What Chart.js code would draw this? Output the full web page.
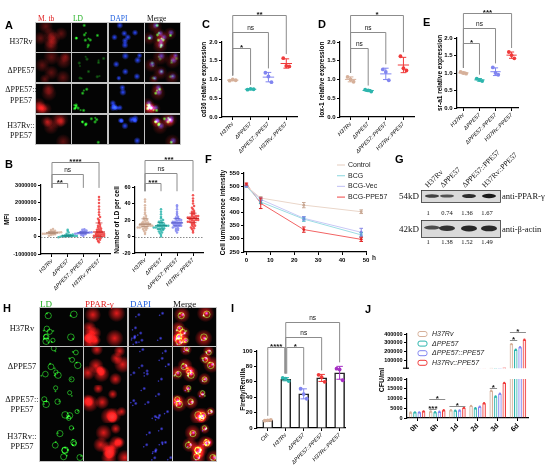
<!DOCTYPE html>
<html>
<head>
<meta charset="utf-8">
<script src="https://cdn.jsdelivr.net/npm/chart.js@4.4.1/dist/chart.umd.min.js"></script>
<style>
html, body { margin: 0; padding: 0; background: #fff; }
#fig { position: relative; width: 550px; height: 472px; overflow: hidden; background: #fff; }
#fig canvas { position: absolute; }
</style>
</head>
<body>
<div id="fig">
  <canvas id="bg" width="550" height="472" style="left:0;top:0"></canvas>
  <canvas id="chartMfi"></canvas>
  <canvas id="chartLd"></canvas>
  <canvas id="chartCd36"></canvas>
  <canvas id="chartLox1"></canvas>
  <canvas id="chartSra1"></canvas>
  <canvas id="chartLum"></canvas>
  <canvas id="chartLuc"></canvas>
  <canvas id="chartCfuHi"></canvas>
  <canvas id="chartCfuLo"></canvas>
</div>
<script>
// ---- data ----
const groups = ['H37Rv', 'ΔPPE57', 'ΔPPE57::PPE57', 'H37Rv::PPE57'];
const groupColors = ['#d6b09a', '#2db5ad', '#8185f0', '#f03a3a'];
const groupDark = ['#a9836d', '#178a84', '#5558c8', '#c41c1c'];

// C-E qPCR, three replicates per strain
const cd36Expr = [[0.97, 1.00, 0.98], [0.73, 0.75, 0.74], [1.18, 1.08, 0.93], [1.57, 1.36, 1.35]];
const lox1Expr = [[1.07, 1.00, 0.94], [0.73, 0.71, 0.68], [1.27, 1.20, 0.98], [1.62, 1.30, 1.24]];
const sra1Expr = [[1.03, 1.00, 0.98], [0.84, 0.80, 0.77], [1.16, 1.00, 0.95], [1.60, 1.51, 1.42]];
const exprTicks = [0, 0.5, 1.0, 1.5, 2.0];
const exprSig = [
  { a: 0, b: 1, y: 1.85, text: '*' },
  { a: 0, b: 2, y: 2.28, text: 'ns' },
  { a: 0, b: 3, y: 2.72, text: '**' }
];
const lox1Sig = [
  { a: 0, b: 1, y: 1.85, text: 'ns' },
  { a: 0, b: 2, y: 2.28, text: 'ns' },
  { a: 0, b: 3, y: 2.72, text: '*' }
];
const sra1Sig = [
  { a: 0, b: 1, y: 1.85, text: '*' },
  { a: 0, b: 2, y: 2.28, text: 'ns' },
  { a: 0, b: 3, y: 2.72, text: '***' }
];

// B MFI per cell
const mfiH37Rv = [60000, 100000, 130000, 150000, 170000, 180000, 190000, 200000, 210000, 220000, 230000, 240000, 250000, 260000, 280000, 300000, 320000, 350000, 390000, 450000];
const mfiDelta = [-30000, 0, 10000, 20000, 25000, 30000, 35000, 40000, 45000, 50000, 55000, 60000, 70000, 80000, 100000, 130000, 180000, 250000, 330000, 400000];
const mfiComp = [50000, 100000, 130000, 150000, 170000, 185000, 200000, 210000, 220000, 230000, 240000, 250000, 265000, 280000, 300000, 330000, 360000, 400000, 440000];
const mfiOver = [-320000, -250000, -180000, -130000, -90000, -60000, -40000, -20000, 0, 10000, 20000, 40000, 60000, 80000, 100000, 120000, 140000, 160000, 180000, 200000, 230000, 260000, 290000, 320000, 360000, 400000, 440000, 480000, 530000, 580000, 640000, 700000, 780000, 860000, 950000, 1050000, 1150000, 1280000, 1420000, 1580000, 1750000, 1950000, 2150000, 2300000];
const mfiTicks = [-1000000, 0, 1000000, 2000000, 3000000];
const mfiSig = [
  { a: 0, b: 1, y: 3130000, text: '**' },
  { a: 0, b: 2, y: 3650000, text: 'ns' },
  { a: 0, b: 3, y: 4350000, text: '****' }
];
// B number of LD per cell
const ldH37Rv = [3, 5, 7, 8, 9, 10, 10, 11, 11, 12, 12, 12, 13, 13, 13, 14, 14, 14, 15, 15, 15, 16, 16, 17, 17, 18, 19, 20, 21, 22, 23, 25, 27, 29, 32, 35, 38, 42, 45];
const ldDelta = [0, 2, 4, 5, 6, 7, 8, 9, 9, 10, 10, 11, 11, 12, 12, 12, 13, 13, 13, 14, 14, 15, 15, 16, 17, 18, 19, 20, 22, 24, 27, 30, 33];
const ldComp = [5, 7, 8, 9, 10, 11, 12, 12, 13, 13, 14, 14, 15, 15, 16, 16, 16, 17, 17, 18, 18, 19, 20, 20, 21, 22, 23, 24, 26, 28, 30, 33, 36, 38];
const ldOver = [5, 7, 9, 10, 11, 12, 13, 14, 15, 16, 17, 18, 18, 19, 19, 20, 20, 21, 21, 22, 22, 23, 23, 24, 24, 25, 25, 26, 27, 28, 29, 30, 31, 33, 35, 37, 40, 43, 46, 50];
const ldTicks = [-20, 0, 20, 40, 60];
const ldSig = [
  { a: 0, b: 1, y: 65, text: '***' },
  { a: 0, b: 2, y: 77, text: 'ns' },
  { a: 0, b: 3, y: 93, text: '***' }
];

// F luminescence over time
const lumHours = [0, 6, 24, 48];
const lumSeries = ['Control', 'BCG', 'BCG-Vec', 'BCG-PPE57'];
const lumControl = [500, 455, 428, 403];
const lumBcg = [500, 440, 375, 315];
const lumVec = [500, 450, 378, 325];
const lumPpe = [508, 435, 335, 298];
const lumControlErr = [3, 5, 10, 7];
const lumBcgErr = [3, 6, 8, 8];
const lumVecErr = [3, 5, 6, 15];
const lumPpeErr = [4, 20, 10, 8];
const lumColors = ['#ead6c9', '#9cdde4', '#c9c9f6', '#f26464'];
const lumErrColors = ['#c9a995', '#3fb2c2', '#8585e6', '#e02424'];

// G western blot quantification
const pparRatio = [1, 0.74, 1.36, 1.67];
const actinRatio = [1, 1.38, 1.52, 1.49];

// I dual luciferase
const lucGroups = ['Ctrl', 'H37Rv', 'ΔPPE57', 'ΔPPE57::PPE57', 'H37Rv::PPE57'];
const lucColors = ['#d6b09a', '#2db5ad', '#8185f0', '#f03a3a', '#a62fc4'];
const lucValues = [[9.5, 10, 10.6], [65, 64, 61], [51, 44, 38], [69, 66, 60], [77, 76, 62]];
const lucTicks = [0, 20, 40, 60, 80, 100];
const lucSig = [
  { a: 0, b: 1, y: 105, text: '****', db: -1 },
  { a: 1, b: 2, y: 105, text: '*', da: 1 },
  { a: 1, b: 3, y: 118, text: 'ns' },
  { a: 1, b: 4, y: 138, text: 'ns' }
];

// J CFU counts
const cfuTimes = ['0h', '6h', '1d', '2d', '3d', '6d'];
const cfuH37Rv = [2800, 3300, 4000, 6200, 14000, 285000];
const cfuDelta = [2900, 3000, 3800, 5000, 11000, 220000];
const cfuComp = [2900, 3200, 3900, 5800, 12500, 250000];
const cfuOver = [3400, 4000, 5200, 7600, 18000, 335000];
const cfuHiTicks = [100000, 200000, 300000, 400000];
const cfuLoTicks = [0, 5000, 10000, 15000, 20000];
const cfuSig = [
  { t: 1, a: 0, b: 3, y: 9700, text: '*', part: 'lo' },
  { t: 1, a: 0, b: 1, y: 4700, text: '***', part: 'lo' },
  { t: 2, a: 0, b: 3, y: 6200, text: '*', part: 'lo' },
  { t: 4, a: 0, b: 1, y: 15500, text: '*', part: 'lo' },
  { t: 5, a: 0, b: 1, y: 330000, text: '*', part: 'hi' },
  { t: 5, a: 0, b: 3, y: 420000, text: '*', part: 'hi' }
];

// ---- helpers ----
const fontSans = "'Liberation Sans', Arial, sans-serif";
const fontSerif = "'Liberation Serif', 'Times New Roman', serif";
Chart.defaults.font.family = fontSans;
Chart.defaults.color = '#000';

function hexA(hex, a) {
  const n = parseInt(hex.slice(1), 16);
  return 'rgba(' + (n >> 16) + ',' + ((n >> 8) & 255) + ',' + (n & 255) + ',' + a + ')';
}
function mean(v) { return v.reduce((s, x) => s + x, 0) / v.length; }
function stdev(v) {
  const m = mean(v);
  return Math.sqrt(v.reduce((s, x) => s + (x - m) * (x - m), 0) / (v.length - 1));
}
function quantile(v, q) {
  const s = v.slice().sort((a, b) => a - b);
  const p = (s.length - 1) * q, lo = Math.floor(p), hi = Math.ceil(p);
  return s[lo] + (s[hi] - s[lo]) * (p - lo);
}

// canvas sized so that the chart area lands on the given page rectangle
function frame(id, area, m) {
  const c = document.getElementById(id);
  c.width = area.r - area.l + m.l + m.r;
  c.height = area.b - area.t + m.t + m.b;
  c.style.left = (area.l - m.l) + 'px';
  c.style.top = (area.t - m.t) + 'px';
  return c;
}

function baseOptions(m, scales, pluginOpts) {
  return {
    responsive: false,
    animation: false,
    events: [],
    layout: { padding: { left: 0, right: m.r, top: m.t, bottom: 0 }, autoPadding: false },
    plugins: Object.assign({ legend: { display: false }, tooltip: { enabled: false } }, pluginOpts || {}),
    scales: scales
  };
}

function numAxis(min, max, tickVals, fmt, size) {
  return {
    type: 'linear', min: min, max: max, offset: false,
    afterBuildTicks: s => { s.ticks = tickVals.map(v => ({ value: v })); },
    ticks: { autoSkip: false, font: { size: size || 6, weight: 'bold' }, color: '#000', padding: 1.5, callback: fmt || (v => String(v)) },
    grid: { drawOnChartArea: false, drawTicks: true, tickLength: 3, color: '#000', lineWidth: 1, offset: false },
    border: { display: true, color: '#000', width: 1.2 }
  };
}

function yAxis(min, max, tickVals, m, title, fmt, size) {
  const a = numAxis(min, max, tickVals, fmt, size);
  a.afterFit = s => { s.width = m.l; };
  a.title = { display: !!title, text: title, font: { size: 6.5, weight: 'bold' }, color: '#000', padding: { top: 0, bottom: 1 } };
  return a;
}

function xGroups(names, min, max, m, font) {
  const a = numAxis(min, max, names.map((n, i) => i), v => names[v], 6);
  a.afterFit = s => { s.height = m.b; };
  a.ticks.minRotation = 45;
  a.ticks.maxRotation = 45;
  a.ticks.padding = 1;
  a.ticks.font = font || { size: 5.5, style: 'italic' };
  return a;
}

// significance brackets above groups
const bracketPlugin = {
  id: 'brackets',
  afterDraw(chart, args, o) {
    if (!o.items) return;
    const ctx = chart.ctx, xs = chart.scales.x, ys = chart.scales.y;
    const legMin = o.legMin === undefined ? -Infinity : o.legMin;
    ctx.save();
    ctx.lineWidth = 1;
    o.items.forEach(it => {
      const xa = xs.getPixelForValue(it.a) + (it.da || 0);
      const xb = xs.getPixelForValue(it.b) + (it.db || 0);
      const yp = Math.round(ys.getPixelForValue(it.y)) + 0.5;
      const ea = ys.getPixelForValue(Math.max(o.tops[it.a], legMin)) - 4;
      const eb = ys.getPixelForValue(Math.max(o.tops[it.b], legMin)) - 4;
      ctx.strokeStyle = '#8c8c8c';
      ctx.beginPath();
      ctx.moveTo(xa, ea); ctx.lineTo(xa, yp); ctx.lineTo(xb, yp); ctx.lineTo(xb, eb);
      ctx.stroke();
      ctx.fillStyle = '#111';
      ctx.textAlign = 'center';
      ctx.textBaseline = 'alphabetic';
      if (it.text === 'ns') {
        ctx.font = '6.5px ' + fontSans;
        ctx.fillText(it.text, (xa + xb) / 2, yp - 3);
      } else {
        ctx.font = 'bold 8px ' + fontSans;
        ctx.fillText(it.text, (xa + xb) / 2, yp + 1.5);
      }
    });
    ctx.restore();
  }
};

// mean line and SD whiskers for replicate dot plots
const meanSdPlugin = {
  id: 'meanSd',
  afterDatasetsDraw(chart, args, o) {
    if (!o.groups) return;
    const ctx = chart.ctx, xs = chart.scales.x, ys = chart.scales.y;
    const unit = xs.getPixelForValue(1) - xs.getPixelForValue(0);
    ctx.save();
    ctx.lineWidth = 1;
    o.groups.forEach((vals, g) => {
      const mu = mean(vals), sd = stdev(vals);
      const x = xs.getPixelForValue(g);
      const y0 = ys.getPixelForValue(mu - sd), y1 = ys.getPixelForValue(mu + sd), ym = ys.getPixelForValue(mu);
      const cw = o.capHalf * unit;
      ctx.strokeStyle = o.colors[g];
      ctx.beginPath();
      ctx.moveTo(x, y0); ctx.lineTo(x, y1);
      ctx.moveTo(x - cw, y0); ctx.lineTo(x + cw, y0);
      ctx.moveTo(x - cw, y1); ctx.lineTo(x + cw, y1);
      if (o.meanHalf) {
        const hw = o.meanHalf * unit;
        ctx.moveTo(x - hw, ym); ctx.lineTo(x + hw, ym);
      }
      ctx.stroke();
    });
    ctx.restore();
  }
};

// dotted zero line and median / quartile lines of the swarm plots
const swarmLinesPlugin = {
  id: 'swarmLines',
  afterDatasetsDraw(chart, args, o) {
    if (!o.groups) return;
    const ctx = chart.ctx, xs = chart.scales.x, ys = chart.scales.y, area = chart.chartArea;
    const unit = xs.getPixelForValue(1) - xs.getPixelForValue(0);
    ctx.save();
    ctx.strokeStyle = '#8a8a8a';
    ctx.lineWidth = 1;
    ctx.setLineDash([1.5, 1.5]);
    const y0 = Math.round(ys.getPixelForValue(0)) + 0.5;
    ctx.beginPath(); ctx.moveTo(area.left, y0); ctx.lineTo(area.right, y0); ctx.stroke();
    ctx.setLineDash([]);
    o.groups.forEach((vals, g) => {
      const x = xs.getPixelForValue(g);
      [[0.5, 0.38, 1.1], [0.25, 0.22, 0.7], [0.75, 0.22, 0.7]].forEach(q => {
        const y = ys.getPixelForValue(quantile(vals, q[0]));
        ctx.strokeStyle = groupDark[g];
        ctx.lineWidth = q[2];
        ctx.beginPath(); ctx.moveTo(x - q[1] * unit, y); ctx.lineTo(x + q[1] * unit, y); ctx.stroke();
      });
    });
    ctx.restore();
  }
};

// beeswarm layout: values sharing a height band are spread sideways
function swarm(values, bin, dx) {
  const count = {}, seen = {};
  values.forEach(v => { const k = Math.round(v / bin); count[k] = (count[k] || 0) + 1; });
  return values.map(v => {
    const k = Math.round(v / bin);
    seen[k] = seen[k] === undefined ? 0 : seen[k] + 1;
    return { y: v, dx: (seen[k] - (count[k] - 1) / 2) * dx };
  });
}

function exprChart(id, area, m, values, title, sig, xMin, xMax) {
  const offs = [-0.17, 0, 0.17];
  const datasets = values.map((vals, g) => ({
    data: vals.map((v, i) => ({ x: g + offs[i], y: v })),
    pointRadius: 1.9, pointBackgroundColor: groupColors[g], pointBorderWidth: 0, clip: false
  }));
  const tops = values.map(v => Math.max(Math.max.apply(null, v), mean(v) + stdev(v)));
  new Chart(frame(id, area, m), {
    type: 'scatter',
    data: { datasets: datasets },
    options: baseOptions(m, {
      x: xGroups(groups, xMin, xMax, m),
      y: yAxis(0, 2, exprTicks, m, title, v => v.toFixed(1))
    }, {
      brackets: { items: sig, tops: tops },
      meanSd: { groups: values, colors: groupColors, meanHalf: 0.32, capHalf: 0.16 }
    }),
    plugins: [bracketPlugin, meanSdPlugin]
  });
}

function swarmChart(id, area, m, values, xMin, xMax, yMin, yMax, ticks, title, bin, sig, legMin) {
  const datasets = values.map((vals, g) => ({
    data: swarm(vals, bin, 0.13).map(p => ({ x: g + p.dx, y: p.y })),
    pointRadius: 1.25, pointBackgroundColor: hexA(groupColors[g], 0.85), pointBorderWidth: 0, clip: false
  }));
  const tops = values.map(v => Math.max.apply(null, v));
  new Chart(frame(id, area, m), {
    type: 'scatter',
    data: { datasets: datasets },
    options: baseOptions(m, {
      x: xGroups(groups, xMin, xMax, m),
      y: yAxis(yMin, yMax, ticks, m, title, v => String(v), 5.5)
    }, {
      brackets: { items: sig, tops: tops, legMin: legMin },
      swarmLines: { groups: values }
    }),
    plugins: [swarmLinesPlugin, bracketPlugin]
  });
}

// ---- B ----
swarmChart('chartMfi', { l: 41, r: 110, t: 185, b: 254 }, { l: 38, t: 35, r: 4, b: 42 },
  [mfiH37Rv, mfiDelta, mfiComp, mfiOver], -0.7, 3.7, -1000000, 3000000, mfiTicks, 'MFI', 110000, mfiSig, 2600000);
swarmChart('chartLd', { l: 135, r: 203, t: 187, b: 253 }, { l: 22, t: 37, r: 4, b: 42 },
  [ldH37Rv, ldDelta, ldComp, ldOver], -0.625, 3.625, -20, 60, ldTicks, 'Number of LD per cell', 2.4, ldSig, 50);

// ---- C, D, E ----
exprChart('chartCd36', { l: 222, r: 297, t: 42, b: 117 }, { l: 22, t: 37, r: 6, b: 42 }, cd36Expr, 'cd36 relative expression', exprSig, -0.6, 3.6);
exprChart('chartLox1', { l: 340, r: 414, t: 42, b: 117 }, { l: 22, t: 37, r: 6, b: 42 }, lox1Expr, 'lox-1 relative expression', lox1Sig, -0.6, 3.6);
exprChart('chartSra1', { l: 457, r: 518, t: 38, b: 108 }, { l: 21, t: 34, r: 10, b: 45 }, sra1Expr, 'sr-a1 relative expression', sra1Sig, -0.4, 3.4);

// ---- F ----
(function () {
  const m = { l: 25, t: 15, r: 24, b: 16 };
  const vals = [lumControl, lumBcg, lumVec, lumPpe];
  const errs = [lumControlErr, lumBcgErr, lumVecErr, lumPpeErr];
  const datasets = vals.map((v, s) => ({
    label: lumSeries[s],
    data: lumHours.map((h, i) => ({ x: h, y: v[i] })),
    borderColor: lumColors[s], backgroundColor: lumErrColors[s], borderWidth: 1,
    pointRadius: 1.4, pointBorderWidth: 0, pointBackgroundColor: lumErrColors[s], tension: 0,
    err: errs[s], errColor: lumErrColors[s], clip: false
  }));
  const errPlugin = {
    id: 'errBars',
    afterDatasetsDraw(chart) {
      const ctx = chart.ctx, ys = chart.scales.y;
      ctx.save();
      ctx.lineWidth = 1;
      chart.data.datasets.forEach((ds, i) => {
        chart.getDatasetMeta(i).data.forEach((pt, k) => {
          const y0 = ys.getPixelForValue(ds.data[k].y - ds.err[k]), y1 = ys.getPixelForValue(ds.data[k].y + ds.err[k]);
          ctx.strokeStyle = ds.errColor;
          ctx.beginPath();
          ctx.moveTo(pt.x, y0); ctx.lineTo(pt.x, y1);
          ctx.moveTo(pt.x - 1.8, y0); ctx.lineTo(pt.x + 1.8, y0);
          ctx.moveTo(pt.x - 1.8, y1); ctx.lineTo(pt.x + 1.8, y1);
          ctx.stroke();
        });
      });
      ctx.restore();
    }
  };
  const legendPlugin = {
    id: 'lumLegend',
    afterDraw(chart) {
      const ctx = chart.ctx, area = chart.chartArea, xs = chart.scales.x;
      ctx.save();
      const x0 = area.right - 29, y0 = area.top - 8;
      chart.data.datasets.forEach((ds, i) => {
        const y = y0 + i * 10.7;
        ctx.strokeStyle = ds.borderColor; ctx.lineWidth = 1.2;
        ctx.beginPath(); ctx.moveTo(x0, y); ctx.lineTo(x0 + 8, y); ctx.stroke();
        ctx.fillStyle = '#222'; ctx.font = '7px ' + fontSans;
        ctx.textAlign = 'left'; ctx.textBaseline = 'middle';
        ctx.fillText(ds.label, x0 + 11, y);
      });
      ctx.font = 'bold 6.5px ' + fontSans;
      ctx.textBaseline = 'top';
      ctx.fillText('h', xs.getPixelForValue(50) + 6, area.bottom + 3);
      ctx.restore();
    }
  };
  const x = numAxis(-1, 50, [0, 10, 20, 30, 40, 50], v => String(v), 6);
  x.afterFit = s => { s.height = m.b; };
  new Chart(frame('chartLum', { l: 244, r: 366, t: 173, b: 252 }, m), {
    type: 'line',
    data: { datasets: datasets },
    options: baseOptions(m, { x: x, y: yAxis(250, 550, [250, 300, 350, 400, 450, 500, 550], m, 'Cell luminescence intensity') }),
    plugins: [errPlugin, legendPlugin]
  });
})();

// ---- I ----
(function () {
  const m = { l: 18, t: 41, r: 6, b: 44 };
  const offs = [-0.17, 0, 0.17];
  const means = lucValues.map(mean);
  const points = [], pointColors = [];
  lucValues.forEach((vals, g) => vals.forEach((v, i) => { points.push({ x: g + offs[i], y: v }); pointColors.push(lucColors[g]); }));
  const tops = lucValues.map(v => Math.max(Math.max.apply(null, v), mean(v) + stdev(v)));
  new Chart(frame('chartLuc', { l: 257, r: 345, t: 351, b: 428 }, m), {
    type: 'bar',
    data: {
      datasets: [
        { type: 'scatter', data: points, pointRadius: 1.9, pointBackgroundColor: pointColors, pointBorderWidth: 0, clip: false },
        { type: 'bar', data: means.map((v, g) => ({ x: g, y: v })), backgroundColor: '#fff', borderColor: '#222', borderWidth: 1.5, barThickness: 10 }
      ]
    },
    options: baseOptions(m, {
      x: xGroups(lucGroups, -0.6, 4.3, m, c => ({ size: 5.5, style: c.index === 0 ? 'normal' : 'italic' })),
      y: yAxis(0, 100, lucTicks, m, 'Firefly/Renilla')
    }, {
      brackets: { items: lucSig, tops: tops },
      meanSd: { groups: lucValues, colors: lucColors, meanHalf: 0, capHalf: 0.18 }
    }),
    plugins: [bracketPlugin, meanSdPlugin]
  });
})();

// ---- J (broken y axis: two stacked charts) ----
(function () {
  const series = [cfuH37Rv, cfuDelta, cfuComp, cfuOver];
  function datasets() {
    return series.map((v, s) => ({
      label: groups[s], data: v,
      backgroundColor: hexA(groupColors[s], 0.12), borderColor: groupColors[s], borderWidth: 1,
      categoryPercentage: 0.86, barPercentage: 0.82, clip: 0
    }));
  }
  function xAxis(m, show) {
    return {
      type: 'category', labels: cfuTimes, offset: true, display: show,
      afterFit: s => { s.height = m.b; },
      ticks: { font: { size: 7, weight: 'bold' }, color: '#000', minRotation: 45, maxRotation: 45, padding: 1 },
      grid: { drawOnChartArea: false, drawTicks: true, tickLength: 3, color: '#000', offset: false },
      border: { display: true, color: '#000', width: 1.2 }
    };
  }
  const sigPlugin = {
    id: 'cfuSig',
    afterDatasetsDraw(chart, args, o) {
      const ctx = chart.ctx, ys = chart.scales.y, area = chart.chartArea;
      const lowCut = ys.min + (ys.max - ys.min) * 0.05;
      ctx.save();
      // small dot on each bar top
      chart.data.datasets.forEach((ds, i) => {
        chart.getDatasetMeta(i).data.forEach((bar, k) => {
          if (ds.data[k] < lowCut || ds.data[k] > ys.max) return;
          ctx.fillStyle = ds.borderColor;
          ctx.beginPath(); ctx.arc(bar.x, bar.y, 1.2, 0, 7); ctx.fill();
        });
      });
      cfuSig.filter(it => it.part === o.part).forEach(it => {
        const xa = chart.getDatasetMeta(it.a).data[it.t].x - 1.5;
        const xb = chart.getDatasetMeta(it.b).data[it.t].x + 1.5;
        const y = Math.round(ys.getPixelForValue(it.y)) + 0.5;
        ctx.strokeStyle = '#8c8c8c'; ctx.lineWidth = 1;
        ctx.beginPath(); ctx.moveTo(xa, y); ctx.lineTo(xb, y); ctx.stroke();
        ctx.fillStyle = '#111'; ctx.font = 'bold 8px ' + fontSans;
        ctx.textAlign = 'center'; ctx.textBaseline = 'alphabetic';
        ctx.fillText(it.text, (xa + xb) / 2, y + 1.5);
      });
      if (o.part === 'hi') {
        // break mark and legend
        ctx.strokeStyle = '#000'; ctx.lineWidth = 1.2;
        ctx.beginPath(); ctx.moveTo(area.left - 4, area.bottom); ctx.lineTo(area.left + 2, area.bottom); ctx.stroke();
        chart.data.datasets.forEach((ds, i) => {
          const y = area.top + i * 9.6;
          const x = area.left + 11;
          ctx.strokeStyle = ds.borderColor; ctx.lineWidth = 1;
          ctx.beginPath();
          if (ctx.roundRect) ctx.roundRect(x, y - 2.5, 9, 5, 2); else ctx.rect(x, y - 2.5, 9, 5);
          ctx.stroke();
          ctx.fillStyle = '#222'; ctx.font = 'italic 7px ' + fontSans;
          ctx.textAlign = 'left'; ctx.textBaseline = 'middle';
          ctx.fillText(ds.label, x + 14, y);
        });
      } else {
        ctx.save();
        ctx.translate(area.left - 25, area.top + 1);
        ctx.rotate(-Math.PI / 2);
        ctx.fillStyle = '#000'; ctx.font = 'bold 7px ' + fontSans;
        ctx.textAlign = 'center'; ctx.textBaseline = 'middle';
        ctx.fillText('CFU/ml', 0, 0);
        ctx.restore();
      }
      ctx.restore();
    }
  };
  const mHi = { l: 30, t: 12, r: 10, b: 0 };
  new Chart(frame('chartCfuHi', { l: 407, r: 528, t: 334, b: 373 }, mHi), {
    type: 'bar',
    data: { labels: cfuTimes, datasets: datasets() },
    options: baseOptions(mHi, { x: xAxis(mHi, false), y: yAxis(10000, 400000, cfuHiTicks, mHi, '', v => String(v), 5.5) }, { cfuSig: { part: 'hi' } }),
    plugins: [sigPlugin]
  });
  const mLo = { l: 40, t: 12, r: 10, b: 40 };
  new Chart(frame('chartCfuLo', { l: 407, r: 528, t: 379, b: 418 }, mLo), {
    type: 'bar',
    data: { labels: cfuTimes, datasets: datasets() },
    options: baseOptions(mLo, { x: xAxis(mLo, true), y: yAxis(0, 20000, cfuLoTicks, mLo, '', v => String(v), 5.5) }, { cfuSig: { part: 'lo' } }),
    plugins: [sigPlugin]
  });
})();

// ---- background: panel letters, microscopy tiles (A, H) and blot (G) ----
(function () {
  const ctx = document.getElementById('bg').getContext('2d');

  // seeded generator used only for the microscopy texture
  function texture(seed) {
    let s = seed >>> 0;
    return function () {
      s = (s + 0x6D2B79F5) >>> 0;
      let t = s;
      t = Math.imul(t ^ (t >>> 15), t | 1);
      t ^= t + Math.imul(t ^ (t >>> 7), t | 61);
      return ((t ^ (t >>> 14)) >>> 0) / 4294967296;
    };
  }
  function blob(x, y, r, rgb, a) {
    const g = ctx.createRadialGradient(x, y, 0, x, y, r);
    g.addColorStop(0, 'rgba(' + rgb + ',' + a + ')');
    g.addColorStop(1, 'rgba(' + rgb + ',0)');
    ctx.fillStyle = g;
    ctx.beginPath(); ctx.arc(x, y, r, 0, 7); ctx.fill();
  }
  function scope(cols, rows, w, h, chans, style, seed) {
    ctx.fillStyle = '#c4c4c4';
    ctx.fillRect(cols[0] - 1, rows[0] - 1, cols[cols.length - 1] + w - cols[0] + 2, rows[rows.length - 1] + h - rows[0] + 2);
    rows.forEach((ry, r) => {
      const R = texture(seed + r * 17);
      const cells = [];
      for (let i = 0; i < style.count; i++) {
        cells.push({ x: 2 + R() * (w - 4), y: 2 + R() * (h - 4), s: 0.7 + R() * 0.6, gx: R() - 0.5, gy: R() - 0.5, k: R() });
      }
      cols.forEach((cx, c) => {
        ctx.save();
        ctx.beginPath(); ctx.rect(cx, ry, w, h); ctx.clip();
        ctx.fillStyle = '#040404'; ctx.fillRect(cx, ry, w, h);
        ctx.globalCompositeOperation = 'lighter';
        const merge = c === cols.length - 1;
        const use = merge ? chans : [chans[c]];
        cells.forEach(cell => use.forEach(ch => style[ch](cx + cell.x, ry + cell.y, cell, r, merge)));
        ctx.restore();
      });
    });
  }
  const styleA = {
    count: 7,
    r: (x, y, c) => blob(x, y, 6.5 * c.s, '185,25,25', 0.5),
    g: (x, y, c, row) => {
      const a = row === 1 ? 0.45 : 0.95;
      blob(x + c.gx * 5, y + c.gy * 5, 2.1, '40,235,40', a);
      if (c.k > 0.4) blob(x - c.gy * 4, y + c.gx * 4, 1.6, '40,235,40', a * 0.8);
    },
    b: (x, y, c, row, merge) => blob(x + 1, y - 1, 2.4 * c.s + 0.8, '40,70,255', merge ? 0.7 : 1)
  };
  const styleH = {
    count: 9,
    g: (x, y, c) => {
      ctx.strokeStyle = 'rgba(40,220,40,0.7)'; ctx.lineWidth = 0.9;
      ctx.beginPath(); ctx.arc(x + c.gx * 3, y + c.gy * 3, 2.2 * c.s + 0.5, 0, 7); ctx.stroke();
      blob(x - c.gy * 6, y + c.gx * 6, 1.5, '40,220,40', 0.8);
    },
    r: (x, y, c) => blob(x, y, 7 * c.s, '235,25,25', 0.95),
    b: (x, y, c) => { blob(x + 1, y, 2.0, '70,70,255', 0.95); blob(x - 2, y + 2, 1.3, '70,70,255', 0.8); }
  };

  scope([36, 72, 109, 145], [23, 53, 84, 115], 35, 29, ['r', 'g', 'b'], styleA, 11);
  scope([40, 84, 129, 173], [308, 347, 385, 423], 43, 38, ['g', 'r', 'b'], styleH, 53);

  function text(s, x, y, font, color, align) {
    ctx.font = font; ctx.fillStyle = color || '#000';
    ctx.textAlign = align || 'left'; ctx.textBaseline = 'middle';
    ctx.fillText(s, x, y);
  }
  // A labels
  text('M. tb', 38, 19.5, '7.5px ' + fontSerif, '#e02020');
  text('LD', 73, 19.5, '7.5px ' + fontSerif, '#20b020');
  text('DAPI', 110, 19.5, '7.5px ' + fontSerif, '#2060e0');
  text('Merge', 147, 19.5, '7.5px ' + fontSerif, '#111');
  const rowA = [['H37Rv', 42], ['ΔPPE57', 70.5], ['ΔPPE57::', 90], ['PPE57', 101], ['H37Rv::', 125.5], ['PPE57', 136]];
  rowA.forEach(r => text(r[0], 21, r[1], '8px ' + fontSerif, '#111', 'center'));
  // H labels
  text('LD', 40, 305, '9px ' + fontSerif, '#20b020');
  text('PPAR-γ', 85, 305, '9px ' + fontSerif, '#e02020');
  text('DAPI', 130, 305, '9px ' + fontSerif, '#2060e0');
  text('Merge', 173, 305, '9px ' + fontSerif, '#111');
  const rowH = [['H37Rv', 329], ['ΔPPE57', 367], ['ΔPPE57::', 400], ['PPE57', 410], ['H37Rv::', 437], ['PPE57', 447]];
  rowH.forEach(r => text(r[0], 22, r[1], '8.5px ' + fontSerif, '#111', 'center'));

  // G blot
  const lanes = [432, 447, 469, 489];
  const numX = [428, 447, 467, 487];
  function box(x, y, w, h) {
    ctx.fillStyle = '#dadada'; ctx.fillRect(x, y, w, h);
    ctx.strokeStyle = '#333'; ctx.lineWidth = 0.8; ctx.strokeRect(x + 0.5, y + 0.5, w, h);
  }
  function band(cx, cy, rx, ry, a) {
    ctx.save();
    ctx.filter = 'blur(0.7px)';
    ctx.fillStyle = 'rgba(15,15,15,' + a + ')';
    ctx.beginPath(); ctx.ellipse(cx, cy, rx, ry, 0, 0, 7); ctx.fill();
    ctx.restore();
  }
  box(421, 190, 79, 12);
  box(421, 220, 79, 17);
  pparRatio.forEach((v, i) => band(lanes[i], 196, 7, 1.1 + 0.7 * v, Math.min(0.95, 0.45 + 0.3 * v)));
  actinRatio.forEach((v, i) => band(lanes[i], 226 + 1.6 * v, 8, 1.2 + 2.0 * (v - 0.6), Math.min(0.92, 0.35 + 0.35 * v)));
  pparRatio.forEach((v, i) => text(v === 1 ? '1' : v.toFixed(2), numX[i], 213, '6.5px ' + fontSerif, '#111', 'center'));
  actinRatio.forEach((v, i) => text(v === 1 ? '1' : v.toFixed(2), numX[i], 242, '6.5px ' + fontSerif, '#111', 'center'));
  text('54kD', 419, 197, '9px ' + fontSerif, '#111', 'right');
  text('42kD', 419, 230, '9px ' + fontSerif, '#111', 'right');
  text('anti-PPAR-γ', 502, 197, '8.5px ' + fontSerif, '#111');
  text('anti-β-actin', 502, 230, '8.5px ' + fontSerif, '#111');
  groups.forEach((g, i) => {
    ctx.save();
    ctx.translate(lanes[i] - 4, 188);
    ctx.rotate(-Math.PI / 4);
    ctx.font = '7.5px ' + fontSerif; ctx.fillStyle = '#111';
    ctx.textAlign = 'left'; ctx.textBaseline = 'alphabetic';
    ctx.fillText(g, 0, 0);
    ctx.restore();
  });

  // panel letters
  const letters = [['A', 5, 29], ['B', 5, 168], ['C', 202, 28], ['D', 318, 28], ['E', 423, 26],
    ['F', 205, 163], ['G', 395, 163], ['H', 3, 312], ['I', 231, 312], ['J', 365, 313]];
  letters.forEach(l => {
    ctx.font = 'bold 11px ' + fontSans; ctx.fillStyle = '#000';
    ctx.textAlign = 'left'; ctx.textBaseline = 'alphabetic';
    ctx.fillText(l[0], l[1], l[2]);
  });
})();
</script>
</body>
</html>
